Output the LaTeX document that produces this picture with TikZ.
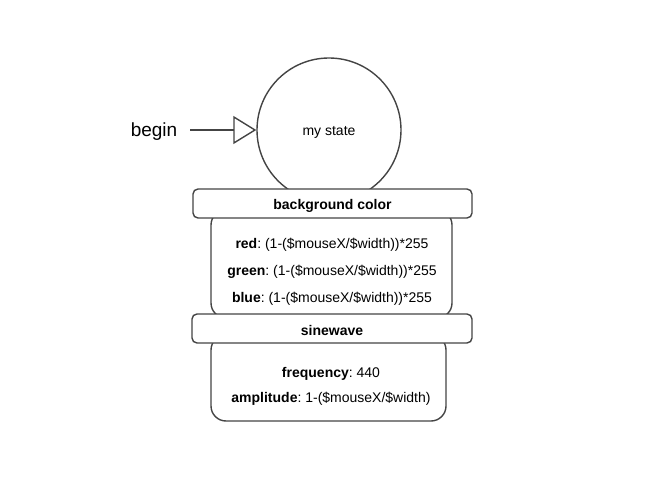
\documentclass[tikz,border=0pt]{standalone}
\usepackage{fontspec}
\setmainfont{Liberation Sans}
\usetikzlibrary{arrows.meta}
\definecolor{ln}{HTML}{444444}
\frenchspacing
\tikzset{
  x=1pt,y=-1pt,
  every node/.style={font=\fontsize{14}{16}\selectfont, text=black},
  hdr/.style={draw=ln, line width=1.4pt, fill=white, rounded corners=5pt},
  bodybox/.style={draw=ln, line width=1.4pt, fill=white, rounded corners=15pt},
  lbl/.style={inner sep=0pt, anchor=center}
}
\begin{document}
\begin{tikzpicture}
\useasboundingbox (0,0) rectangle (647,494);
% state circle
\node[draw=ln, line width=1.4pt, circle, minimum size=144pt, inner sep=0pt] (state) at (329,130) {};
\node[lbl] (statelbl) at (329,132) {my state};
% begin
\node[lbl, font=\fontsize{19}{22}\selectfont] (begin) at (154,132) {begin};
\draw[ln, line width=1.4pt, shorten <=13pt, -{Triangle[open, length=23pt, width=28pt, line width=1.4pt]}] (begin.east |- state.west) -- (state.west);
% background color body
\draw[bodybox] (211,210) rectangle (452,318);
\node[hdr, minimum width=279pt, minimum height=29pt, inner sep=0pt] (h1) at (332.5,203.5) {};
\node[lbl, font=\fontsize{14}{16}\selectfont\bfseries] at ([yshift=-2pt]h1.center) {background color};
\node[lbl] (red) at (332,245) {\textbf{red}: (1-(\$mouseX/\$width))*255};
\node[lbl] (green) at (332,272) {\textbf{green}: (1-(\$mouseX/\$width))*255};
\node[lbl] (blue) at (332,299) {\textbf{blue}: (1-(\$mouseX/\$width))*255};
% sinewave body
\draw[bodybox] (211,335) rectangle (446,421);
\node[hdr, minimum width=280pt, minimum height=29pt, inner sep=0pt] (h2) at (332,328.5) {};
\node[lbl, font=\fontsize{14}{16}\selectfont\bfseries] at ([yshift=-2pt]h2.center) {sinewave};
\node[lbl] (freq) at (331,374) {\textbf{frequency}: 440};
\node[lbl] (amp) at (331,399) {\textbf{amplitude}: 1-(\$mouseX/\$width)};
\end{tikzpicture}
\end{document}
